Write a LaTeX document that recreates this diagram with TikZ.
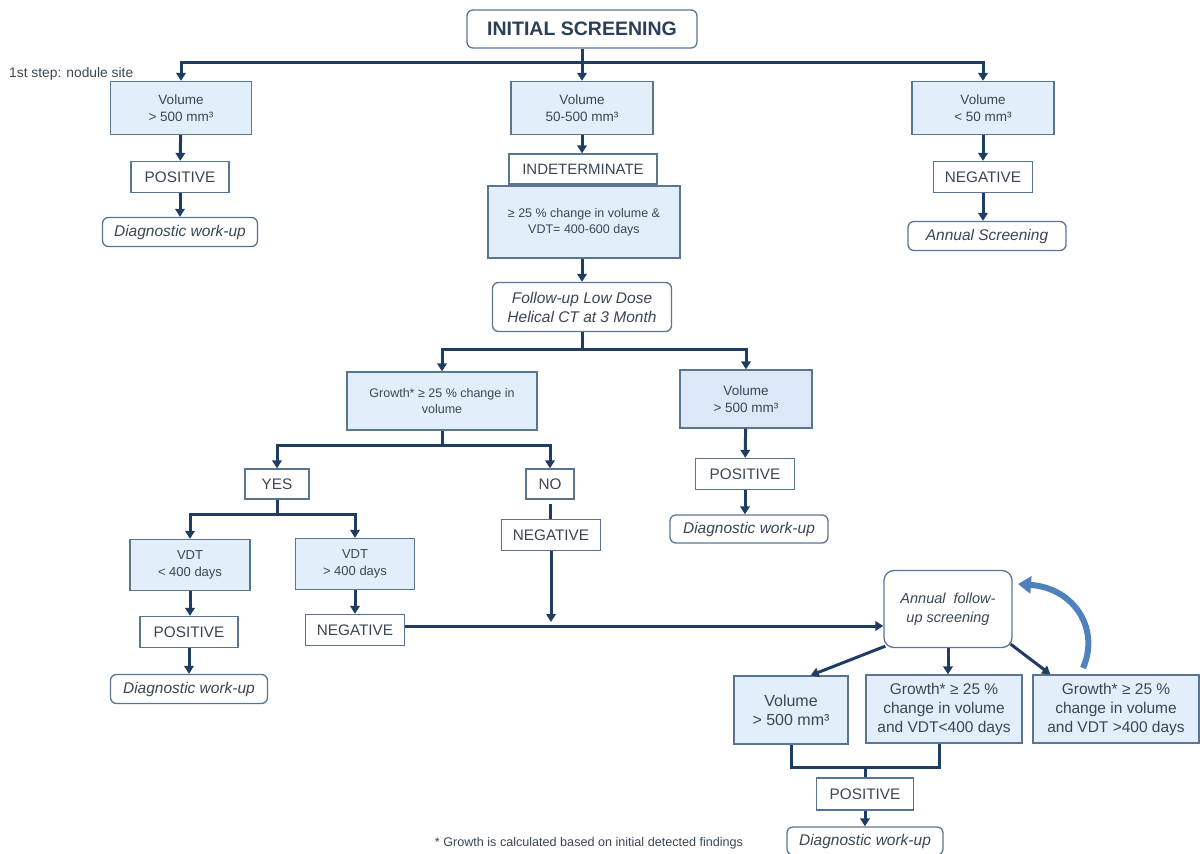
\documentclass[tikz,border=0pt]{standalone}
\usepackage{fontspec}
\setmainfont{Liberation Sans}
\usetikzlibrary{arrows.meta}
\definecolor{txt}{HTML}{3A4654}
\definecolor{head}{HTML}{2B3F56}
\definecolor{edge}{HTML}{5A7592}
\definecolor{lfill}{HTML}{E2EFFB}
\definecolor{lfillb}{HTML}{DCE8F5}
\definecolor{arrc}{HTML}{1F3D63}
\definecolor{loopc}{HTML}{4F81BD}
\newcommand\fz[2]{\fontsize{#1pt}{#2pt}\selectfont}
\begin{document}
\begin{tikzpicture}[x=1pt,y=-1pt,
  base/.style={text=txt, inner sep=0pt, align=center, font=\fz{13.5}{16.5}},
  lbox/.style={base, draw=edge, fill=lfill, line width=1.3pt},
  wbox/.style={base, draw=edge, fill=white, line width=1.3pt, font=\fz{15.3}{18}},
  rbox/.style={wbox, rounded corners=6pt, font=\fz{15.5}{19}\itshape},
  line/.style={draw=arrc, line width=3pt},
  arr/.style={line, -{Triangle[width=9.5pt,length=8pt]}},
  loop/.style={draw=loopc, line width=6pt, -{Triangle[width=17pt,length=13pt]}}]
\useasboundingbox (0,0) rectangle (1200,854);

% top level
\node[rbox, font=\fz{19.5}{22}\bfseries, text=head, minimum width=230pt, minimum height=38pt] (is) at (582,29) {INITIAL SCREENING};
\node[base, font=\fz{13.8}{16.5}, anchor=west, text=txt] (stp) at (9,74) {1st step: nodule site};

% left branch
\node[lbox, minimum width=141pt, minimum height=53pt] (v1) at (181,108) {Volume\\> 500 mm³};
\node[wbox, minimum width=98pt, minimum height=31pt] (p1) at (180,177) {POSITIVE};
\node[rbox, minimum width=155pt, minimum height=29pt] (d1) at (180,232) {Diagnostic work-up};

% middle branch
\node[lbox, minimum width=142pt, minimum height=53pt] (v2) at (582,108) {Volume\\50-500 mm³};
\node[wbox, font=\fz{15}{18}, minimum width=148pt, minimum height=30pt] (ind) at (583,169) {INDETERMINATE};
\node[lbox, font=\fz{12.5}{16}, minimum width=192pt, minimum height=72pt] (chg) at (584,222) {≥ 25 \% change in volume \&\\VDT= 400-600 days};
\node[rbox, minimum width=179pt, minimum height=49pt] (fu) at (582,307) {Follow-up Low Dose\\Helical CT at 3 Month};

% right branch
\node[lbox, minimum width=142pt, minimum height=53pt] (v3) at (983,108) {Volume\\< 50 mm³};
\node[wbox, minimum width=99pt, minimum height=31pt] (n3) at (983,177) {NEGATIVE};
\node[rbox, minimum width=158pt, minimum height=29pt] (as) at (987,236) {Annual Screening};

% after the 3-month CT
\node[lbox, font=\fz{12.5}{16}, minimum width=190pt, minimum height=58pt] (gr) at (442,401) {Growth* ≥ 25 \% change in\\volume};
\node[lbox, fill=lfillb, minimum width=132pt, minimum height=58pt] (v4) at (746,399) {Volume\\> 500 mm³};
\node[wbox, minimum width=99pt, minimum height=31pt] (p4) at (745,474) {POSITIVE};
\node[rbox, minimum width=158pt, minimum height=28pt] (d4) at (749,529) {Diagnostic work-up};

\node[wbox, minimum width=64pt, minimum height=30pt] (yes) at (277,484) {YES};
\node[wbox, minimum width=48pt, minimum height=30pt] (no) at (550,484) {NO};
\node[wbox, minimum width=99pt, minimum height=31pt] (n5) at (551,535) {NEGATIVE};

\node[lbox, font=\fz{13}{16.5}, minimum width=120pt, minimum height=51pt] (vdt1) at (190,565) {VDT\\< 400 days};
\node[lbox, font=\fz{13}{16.5}, minimum width=119pt, minimum height=51pt] (vdt2) at (355,564) {VDT\\> 400 days};
\node[wbox, minimum width=98pt, minimum height=31pt] (p6) at (189,632) {POSITIVE};
\node[rbox, minimum width=157pt, minimum height=29pt] (d6) at (189,689) {Diagnostic work-up};
\node[wbox, minimum width=99pt, minimum height=31pt] (n7) at (355,630) {NEGATIVE};

% annual follow-up
\node[rbox, rounded corners=10pt, font=\fz{14.5}{19}\itshape, minimum width=128pt, minimum height=77pt] (afu) at (948,609) {Annual\ \ follow-\\up screening};
\node[lbox, font=\fz{16}{19}, minimum width=114pt, minimum height=68pt] (b1) at (791,710) {Volume\\> 500 mm³};
\node[lbox, font=\fz{15.5}{19}, minimum width=156pt, minimum height=68pt] (b2) at (944,709) {Growth* ≥ 25 \%\\change in volume\\and VDT<400 days};
\node[lbox, font=\fz{15.5}{19}, minimum width=166pt, minimum height=68pt] (b3) at (1116,709) {Growth* ≥ 25 \%\\change in volume\\and VDT >400 days};
\node[wbox, minimum width=97pt, minimum height=32pt] (p8) at (865,794) {POSITIVE};
\node[rbox, minimum width=156pt, minimum height=28pt] (d8) at (865,841) {Diagnostic work-up};

\node[base, font=\fz{12.6}{15}] (foot) at (589,843) {* Growth is calculated based on initial detected findings};

% junctions
\coordinate (j1) at (582,62);
\coordinate (j2) at (582,349);
\coordinate (j3) at (442,445);
\coordinate (j4) at (277,514);
\coordinate (j5) at (865,767);
\coordinate (m1) at (551,622);
\coordinate (ls) at (1083,668);
\coordinate (le) at (1018,584);

% connectors
\draw[arr] (is.south) -- (v2.north);
\draw[arr] (j1) -| (v1.north);
\draw[arr] (j1) -| (v3.north);
\draw[arr] (v1) -- (p1);
\draw[arr] (p1) -- (d1);
\draw[arr] (v2.south) -- (v2.south |- ind.north);
\draw[arr] (fu.north |- chg.south) -- (fu.north);
\draw[arr] (v3) -- (n3);
\draw[arr] (n3.south) -- (n3.south |- as.north);

\draw[line] (fu.south) -- (j2);
\draw[arr] (j2) -| (gr.north);
\draw[arr] (j2) -| (v4.north);
\draw[arr] (v4) -- (p4);
\draw[arr] (p4.south) -- (p4.south |- d4.north);

\draw[line] (gr.south) -- (j3);
\draw[arr] (j3) -| (yes.north);
\draw[arr] (j3) -| (no.north);
\draw[line, shorten <=4pt] (no.south) -- (no.south |- n5.north);
\draw[arr] (n5.south) -- (m1);

\draw[line] (yes.south) -- (j4);
\draw[arr] (j4) -| (vdt1.north);
\draw[arr] (j4) -| (vdt2.north);
\draw[arr] (vdt1.south) -- (vdt1.south |- p6.north);
\draw[arr] (p6) -- (d6);
\draw[arr] (vdt2) -- (n7);
\draw[arr] ([yshift=4pt]n7.east) -- ([yshift=4pt]n7.east -| afu.west);

\draw[arr] ([xshift=2pt,yshift=2pt]afu.south west) -- ([xshift=-38pt]b1.north east);
\draw[arr] (afu.south) -- (afu.south |- b2.north);
\draw[arr] ([xshift=-2pt,yshift=4pt]afu.south east) -- ([xshift=18pt]b3.north west);

\draw[line] (b1.south) |- (j5) -| ([xshift=-5pt]b2.south);
\draw[line] (j5) -- (p8.north);
\draw[arr] (p8) -- (d8);

\draw[loop] (ls) .. controls (1100,630) and (1075,588) .. (le);
\end{tikzpicture}
\end{document}
